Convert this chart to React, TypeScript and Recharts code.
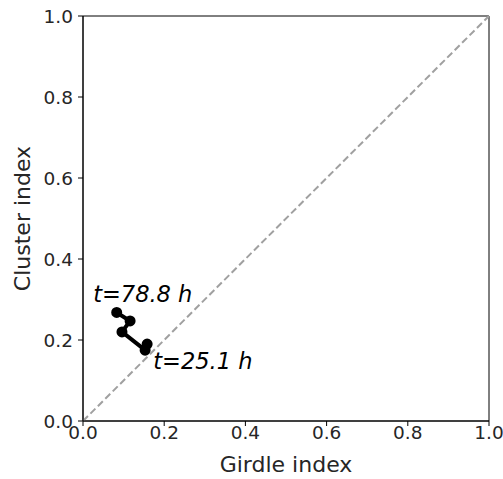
import React from 'react';
import {
  ComposedChart,
  Line,
  XAxis,
  YAxis,
  ReferenceLine,
  ReferenceArea,
  ReferenceDot,
} from 'recharts';

// trajectory from t=25.1 h to t=78.8 h
const girdle = [0.158, 0.153, 0.096, 0.116, 0.083];
const cluster = [0.19, 0.175, 0.22, 0.247, 0.268];
const ticks = [0, 0.2, 0.4, 0.6, 0.8, 1.0];
const startLabel = 't=25.1 h';
const endLabel = 't=78.8 h';

const data = girdle.map((g, i) => ({ x: g, y: cluster[i] }));

const FONT = 'DejaVu Sans, sans-serif';

const textLabel = (text: string) => (props: any) => {
  const { viewBox } = props;
  const cx = viewBox.x + (viewBox.width || 0) / 2;
  const cy = viewBox.y + (viewBox.height || 0) / 2;
  return (
    <text x={cx} y={cy} fontFamily={FONT} fontSize={22.5} fontStyle="italic" fill="#000">
      {text}
    </text>
  );
};

export default function App() {
  return (
    <div style={{ position: 'absolute', left: 0, top: 0, background: '#fff' }}>
      <ComposedChart
        width={503}
        height={479}
        data={data}
        margin={{ top: 16, right: 14, bottom: 0, left: 0 }}
      >
        <XAxis
          type="number"
          dataKey="x"
          domain={[0, 1]}
          ticks={ticks}
          tickFormatter={(v: number) => v.toFixed(1)}
          height={58}
          tickSize={5}
          tickMargin={0}
          stroke="#000"
          tick={{ fill: '#262626', fontSize: 18.5, fontFamily: FONT }}
          label={{
            value: 'Girdle index',
            position: 'insideBottom',
            offset: 7,
            fill: '#262626',
            fontSize: 22,
            fontFamily: FONT,
          }}
          allowDataOverflow
        />
        <YAxis
          type="number"
          dataKey="y"
          domain={[0, 1]}
          ticks={ticks}
          tickFormatter={(v: number) => v.toFixed(1)}
          width={83}
          tickSize={5}
          tickMargin={5}
          stroke="#000"
          tick={{ fill: '#262626', fontSize: 18.5, fontFamily: FONT }}
          label={{
            value: 'Cluster index',
            angle: -90,
            position: 'insideLeft',
            offset: 22,
            style: { textAnchor: 'middle' },
            fill: '#262626',
            fontSize: 22,
            fontFamily: FONT,
          }}
          allowDataOverflow
        />
        <ReferenceArea x1={0} x2={1} y1={0} y2={1} fill="none" stroke="#000" strokeWidth={1} />
        <ReferenceLine
          segment={[{ x: 0, y: 0 }, { x: 1, y: 1 }]}
          stroke="#a0a0a0"
          strokeWidth={2}
          strokeDasharray="7 3.5"
        />
        <Line
          dataKey="y"
          stroke="#000"
          strokeWidth={4}
          dot={{ r: 3.5, fill: '#000', stroke: '#000' }}
          isAnimationActive={false}
        />
        <ReferenceDot x={0.025} y={0.294} r={0} label={textLabel(endLabel)} />
        <ReferenceDot x={0.173} y={0.128} r={0} label={textLabel(startLabel)} />
      </ComposedChart>
    </div>
  );
}
